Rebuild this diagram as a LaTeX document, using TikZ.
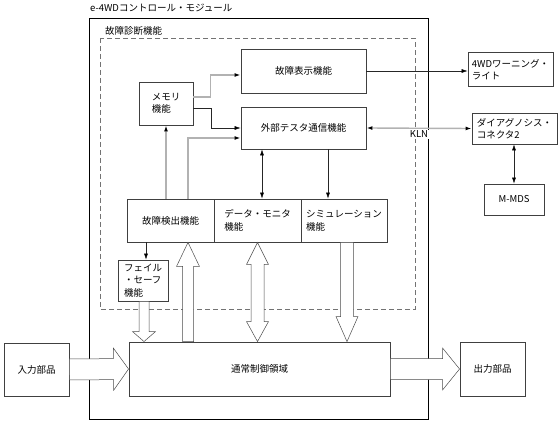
\documentclass[tikz,border=0pt]{standalone}
\usepackage{fontspec}
\setmainfont{Noto Sans CJK JP}
\usepackage{tikz}
\usetikzlibrary{calc,arrows.meta}

\tikzset{
  blk/.style={draw=black!75,line width=0.9pt,fill=white,inner sep=1pt,align=left},
  lbl/.style={inner sep=0pt},
  thinline/.style={draw=black!85,line width=0.5pt},
  greyline/.style={draw=black!30,line width=1.4pt},
  arr/.style={-{Latex[length=6pt,width=4pt,color=black]}},
  darr/.style={{Latex[length=6pt,width=4pt,color=black]}-{Latex[length=6pt,width=4pt,color=black]}},
  hollow/.style={draw=black!70,line width=0.5pt,fill=white,line join=miter},
}

% open arrow #1 -> #2: shaft half width #3, head half width #4, head length #5
\newcommand{\bigarrow}[5]{%
  \coordinate (hb) at ($(#2)!#5!(#1)$);
  \draw[hollow] ($(#1)!#3!90:(#2)$) -- ($(hb)!#3!-90:(#1)$) -- ($(hb)!#4!-90:(#1)$)
    -- (#2) -- ($(hb)!#4!90:(#1)$) -- ($(hb)!#3!90:(#1)$) -- ($(#1)!#3!-90:(#2)$) -- cycle;
}
% open arrow #1 <-> #2, head lengths #5 and #6
\newcommand{\bigdarrow}[6]{%
  \coordinate (ha) at ($(#1)!#5!(#2)$);
  \coordinate (hb) at ($(#2)!#6!(#1)$);
  \draw[hollow] (#1) -- ($(ha)!#4!90:(#2)$) -- ($(ha)!#3!90:(#2)$) -- ($(hb)!#3!-90:(#1)$)
    -- ($(hb)!#4!-90:(#1)$) -- (#2) -- ($(hb)!#4!90:(#1)$) -- ($(hb)!#3!90:(#1)$)
    -- ($(ha)!#3!-90:(#2)$) -- ($(ha)!#4!-90:(#2)$) -- cycle;
}

\begin{document}
\begin{tikzpicture}[x=1pt,y=-1pt,every node/.style={font=\fontsize{9.5}{12.5}\selectfont}]
\useasboundingbox (0,0) rectangle (560,422);

% module frame
\node[lbl,anchor=west] (ttl) at (90,8) {e-4WDコントロール・モジュール};
\draw[black,line width=0.7pt] (89,18) rectangle (428,419);
\node[lbl,anchor=west] (diagttl) at (105,31) {故障診断機能};
\draw[black!55,line width=0.6pt,dash pattern=on 5pt off 3pt] (100,38) rectangle (415,309);

% blocks
\node[blk,minimum width=125pt,minimum height=44pt] (disp) at (303.5,71) {故障表示機能};
\node[blk,minimum width=125pt,minimum height=42pt] (ext) at (303.5,128) {外部テスタ通信機能};
\node[blk,minimum width=54pt,minimum height=43pt] (mem) at (166,103.5) {メモリ\\機能};
\node[blk,minimum width=87pt,minimum height=43pt] (det) at (170.5,220.5) {故障検出機能};
\node[blk,minimum width=87pt,minimum height=43pt] (mon) at (257.5,220.5) {データ・モニタ\\機能};
\node[blk,minimum width=86pt,minimum height=43pt] (sim) at (344,220.5) {シミュレーション\\機能};
\node[blk,minimum width=50pt,minimum height=41pt] (fs) at (143,280.5) {フェイル\\・セーフ\\機能};
\node[blk,minimum width=261pt,minimum height=54pt] (main) at (259.5,369) {通常制御領域};
\node[blk,minimum width=65pt,minimum height=53pt] (in) at (36.5,369.5) {入力部品};
\node[blk,minimum width=65pt,minimum height=54pt] (out) at (492.5,369) {出力部品};
\node[blk,minimum width=85pt,minimum height=34pt] (warn) at (510.5,69.5) {4WDワーニング・\\ライト};
\node[blk,minimum width=85pt,minimum height=31pt] (diag) at (514.5,128.5) {ダイアグノシス・\\コネクタ2};
\node[blk,minimum width=60pt,minimum height=31pt] (mmds) at (514,199.5) {M-MDS};

% signal lines
\draw[greyline,arr] ([yshift=6.5pt]mem.east) -- ++(17,0) |- ([yshift=-4pt]disp.west);
\draw[thinline,arr] ([yshift=-4.5pt]mem.east) -- ++(18,0) |- (ext.west);
\draw[greyline,arr] (mem.south |- det.north) -- (mem.south);
\coordinate (dx) at ([xshift=17.5pt]det.north);
\draw[greyline,arr] (dx) |- ([yshift=-10pt]ext.west);
\coordinate (e1) at ([xshift=-41.5pt]ext.south);
\draw[thinline,darr] (e1) -- (e1 |- mon.north);
\coordinate (e2) at ([xshift=24.5pt]ext.south);
\draw[thinline,arr] (e2) -- (e2 |- sim.north);
\coordinate (f1) at ([xshift=3pt]fs.north);
\draw[thinline,arr] (f1 |- det.south) -- (f1);
\draw[thinline,arr] (disp.east) -- (disp.east -| warn.west);
\draw[greyline,darr] (ext.east) -- (diag.west) node[midway,below=1pt,fill=white,inner sep=1pt,text=black] (kln) {KLN};
\draw[thinline,darr] (mmds.north |- diag.south) -- (mmds.north);

% open arrows
\bigarrow{in.east}{main.west}{10.5pt}{21pt}{15pt}
\bigarrow{main.east}{out.west}{10.5pt}{21pt}{17pt}
\coordinate (fs1) at ([xshift=1pt]fs.south);
\coordinate (fs2) at (fs1 |- main.north);
\bigarrow{fs1}{fs2}{5pt}{11.5pt}{10pt}
\coordinate (up2) at ([xshift=17.5pt]det.south);
\coordinate (up1) at (up2 |- main.north);
\bigarrow{up1}{up2}{5.5pt}{11.5pt}{24pt}
\coordinate (mo2) at (mon.south |- main.north);
\bigdarrow{mon.south}{mo2}{6.5pt}{11pt}{22pt}{20pt}
\coordinate (si1) at ([xshift=3pt]sim.south);
\coordinate (si2) at (si1 |- main.north);
\bigarrow{si1}{si2}{6.5pt}{11pt}{25pt}
\end{tikzpicture}
\end{document}
